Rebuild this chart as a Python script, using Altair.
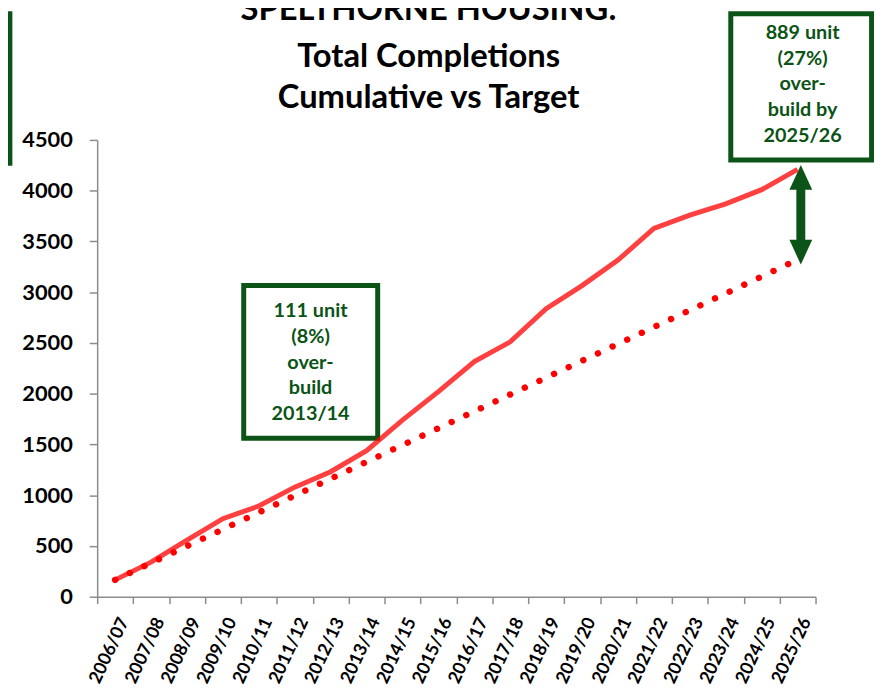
import altair as alt
import pandas as pd

years = ["2006/07", "2007/08", "2008/09", "2009/10", "2010/11", "2011/12", "2012/13",
         "2013/14", "2014/15", "2015/16", "2016/17", "2017/18", "2018/19", "2019/20",
         "2020/21", "2021/22", "2022/23", "2023/24", "2024/25", "2025/26"]
actual = [166, 340, 557, 769, 893, 1079, 1231, 1439, 1740, 2020, 2316, 2511, 2837,
          3065, 3316, 3629, 3759, 3870, 4010, 4209]
target = [166, 332, 498, 664, 830, 996, 1162, 1328, 1494, 1660, 1826, 1992, 2158,
          2324, 2490, 2656, 2822, 2988, 3154, 3320]

# annotation boxes (x in category-index units, y in data units)
box_x = [3.58, 17.14, -3.3]
box_x2 = [7.31, 21.06, -2.93]
box_y = [3065, 5744, 5744]
box_y2 = [1562, 4302, 4270]
note_x = [5.44, 19.14]
note_y = [2814, 5554]
note_text = ["111 unit\n(8%)\nover-\nbuild\n2013/14", "889 unit\n(27%)\nover-\nbuild by\n2025/26"]
arrow_x = [19.09]
arrow_top = [4131]
arrow_bottom = [3394]

GREEN = "#0b5316"
FONT = "Lato"

df = pd.DataFrame({"year": years, "actual": actual, "target": target})
boxes = pd.DataFrame({"x": box_x, "x2": box_x2, "y": box_y, "y2": box_y2})
notes = pd.DataFrame({"x": note_x, "y": note_y, "t": note_text})
arrow = pd.DataFrame({"x": arrow_x, "top": arrow_top, "bottom": arrow_bottom})

xenc = alt.X("year:N", sort=years, bandPosition=0.5,
             scale=alt.Scale(type="band", paddingInner=0, paddingOuter=0),
             axis=alt.Axis(title=None, tickBand="extent", labelAngle=-65, labelFont=FONT,
                           labelFontSize=18, labelFontWeight="bold", labelColor="black",
                           tickSize=7, tickColor="#8c8c8c", tickWidth=1.5,
                           domainColor="#8c8c8c", domainWidth=1.5, grid=False,
                           labelPadding=15, labelOffset=9))
yscale = alt.Scale(domain=[0, 4500], nice=False, zero=True)
yaxis = alt.Axis(title=None, values=list(range(0, 4501, 500)), format="d", labelFont=FONT,
                 labelFontSize=22, labelFontWeight="bold", labelColor="black",
                 tickSize=8, tickColor="#8c8c8c", tickWidth=1.5, domainColor="#8c8c8c",
                 domainWidth=1.5, gridColor="#8c8c8c", gridWidth=1.5, labelPadding=17)

actual_line = alt.Chart(df).mark_line(color="#ff0000", opacity=0.75, strokeWidth=5).encode(
    x=xenc, y=alt.Y("actual:Q", scale=yscale, axis=yaxis))
target_line = alt.Chart(df).mark_line(color="#ff0000", strokeWidth=6.5, strokeCap="round",
                                      strokeDash=[0.01, 16.3]).encode(
    x=xenc, y=alt.Y("target:Q", scale=yscale, axis=yaxis))
main = alt.layer(actual_line, target_line)

ax = alt.Scale(domain=[-0.5, 19.5], nice=False, zero=False)
ay = alt.Scale(domain=[0, 4500], nice=False, zero=False)

rects = alt.Chart(boxes).mark_rect(fill="white", stroke=GREEN, strokeWidth=5).encode(
    x=alt.X("x:Q", scale=ax, axis=None), x2="x2:Q",
    y=alt.Y("y:Q", scale=ay, axis=None), y2="y2:Q")
texts = alt.Chart(notes).mark_text(font=FONT, fontSize=20, fontWeight="bold", color=GREEN,
                                   lineBreak="\n", lineHeight=26, align="center",
                                   baseline="middle").encode(
    x=alt.X("x:Q", scale=ax, axis=None), y=alt.Y("y:Q", scale=ay, axis=None), text="t:N")
shaft = alt.Chart(arrow).mark_rule(color=GREEN, strokeWidth=9).encode(
    x=alt.X("x:Q", scale=ax, axis=None), y=alt.Y("top:Q", scale=ay, axis=None), y2="bottom:Q")
head_up = alt.Chart(arrow).mark_point(shape="M-0.92,1L0.92,1L0,-1Z", filled=True, size=625,
                                      color=GREEN, opacity=1, strokeWidth=0).encode(
    x=alt.X("x:Q", scale=ax, axis=None), y=alt.Y("top:Q", scale=ay, axis=None))
head_down = alt.Chart(arrow).mark_point(shape="M-0.92,-1L0.92,-1L0,1Z", filled=True, size=625,
                                        color=GREEN, opacity=1, strokeWidth=0).encode(
    x=alt.X("x:Q", scale=ax, axis=None), y=alt.Y("bottom:Q", scale=ay, axis=None))
annot = alt.layer(rects, shaft, head_up, head_down, texts)

chart = alt.layer(annot, main).resolve_scale(x="independent", y="independent").properties(
    width=725, height=461, autosize="none",
    padding={"left": 90, "top": 130, "right": 59, "bottom": 90},
    title=alt.TitleParams(text="SPELTHORNE HOUSING:",
                          subtitle=["Total Completions", "Cumulative vs Target"],
                          font=FONT, fontSize=33, fontWeight="bold", color="black",
                          subtitleFont=FONT, subtitleFontSize=33, subtitleFontWeight="bold",
                          subtitleColor="black", subtitleLineHeight=42, subtitlePadding=14,
                          anchor="middle", frame="group", dx=-28, offset=-105)
).configure_view(strokeWidth=0)

chart.save("out.html", embed_options={"renderer": "svg", "actions": False})
